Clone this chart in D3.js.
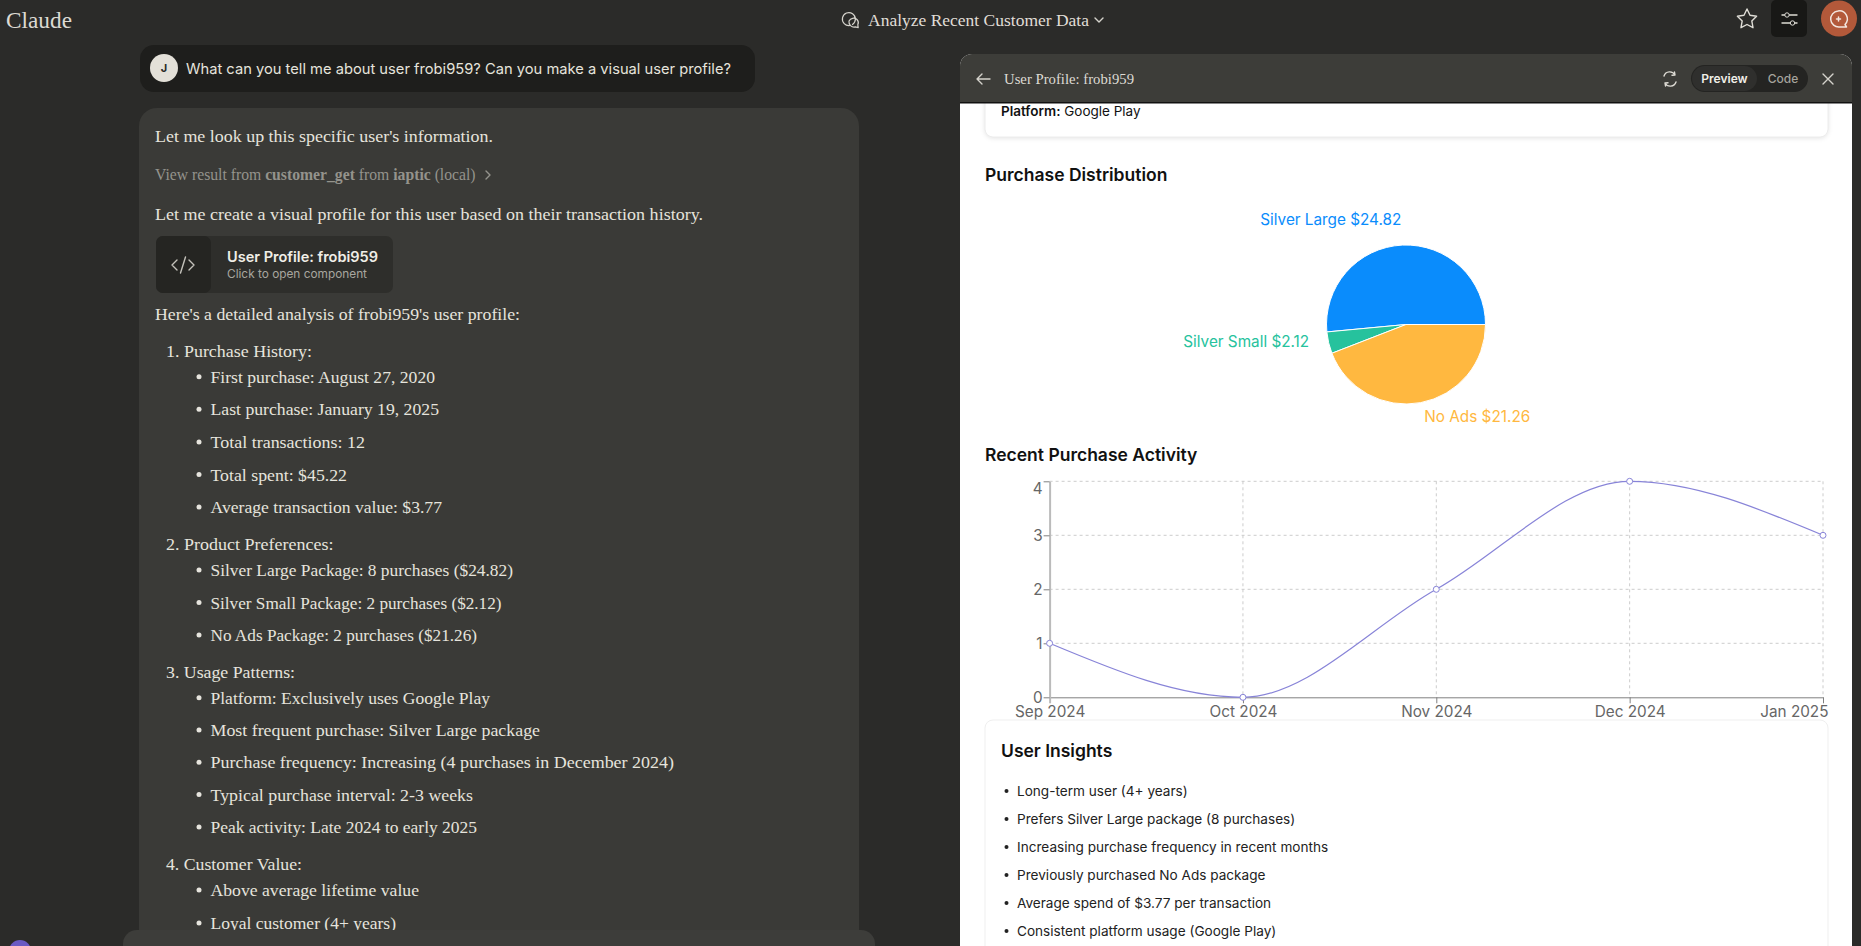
<!DOCTYPE html>
<html>
<head>
<meta charset="utf-8">
<title>Claude - Analyze Recent Customer Data</title>
<script src="https://cdnjs.cloudflare.com/ajax/libs/d3/7.8.5/d3.min.js"></script>
<style>
  html, body { margin: 0; padding: 0; background: #2b2b29; overflow: hidden; }
  svg { display: block; }
  .serif { font-family: "Liberation Serif", serif; }
  .sans { font-family: Inter, "Noto Sans", sans-serif; }
</style>
</head>
<body>
<div id="chart"></div>
<script>
const pieLabels = ["Silver Large", "Silver Small", "No Ads"];
const pieValues = [24.82, 2.12, 21.26];

const months = ["Sep 2024", "Oct 2024", "Nov 2024", "Dec 2024", "Jan 2025"];
const purchases = [1, 0, 2, 4, 3];
const yTicks = [0, 1, 2, 3, 4];

const insights = [
  "Long-term user (4+ years)",
  "Prefers Silver Large package (8 purchases)",
  "Increasing purchase frequency in recent months",
  "Previously purchased No Ads package",
  "Average spend of $3.77 per transaction",
  "Consistent platform usage (Google Play)"
];

const sections = [
  ["1. Purchase History:", [
    "First purchase: August 27, 2020",
    "Last purchase: January 19, 2025",
    "Total transactions: 12",
    "Total spent: $45.22",
    "Average transaction value: $3.77"
  ]],
  ["2. Product Preferences:", [
    "Silver Large Package: 8 purchases ($24.82)",
    "Silver Small Package: 2 purchases ($2.12)",
    "No Ads Package: 2 purchases ($21.26)"
  ]],
  ["3. Usage Patterns:", [
    "Platform: Exclusively uses Google Play",
    "Most frequent purchase: Silver Large package",
    "Purchase frequency: Increasing (4 purchases in December 2024)",
    "Typical purchase interval: 2-3 weeks",
    "Peak activity: Late 2024 to early 2025"
  ]],
  ["4. Customer Value:", [
    "Above average lifetime value",
    "Loyal customer (4+ years)"
  ]]
];

const W = 1861, H = 946;
const svg = d3.select("#chart").append("svg").attr("width", W).attr("height", H);

const txt = (parent, x, y, s, o = {}) => {
  const t = parent.append("text")
    .attr("class", o.font || "serif")
    .attr("x", x)
    .attr("y", y)
    .attr("dy", "0.35em")
    .attr("font-size", o.size || 17.6)
    .attr("font-weight", o.weight || 400)
    .attr("fill", o.fill || "#e6e4dd")
    .attr("text-anchor", o.anchor || "start")
    .text(s);
  // the original serif runs a bit wider than Liberation, so stretch to its right edge
  if (o.right) t.attr("textLength", o.right - x).attr("lengthAdjust", "spacingAndGlyphs");
  return t;
};

const box = (parent, x, y, w, h, r, fill) =>
  parent.append("rect").attr("x", x).attr("y", y).attr("width", w).attr("height", h).attr("rx", r).attr("fill", fill);

const icon = (d, stroke, width = 1.4) =>
  svg.append("path").attr("d", d).attr("fill", "none").attr("stroke", stroke)
    .attr("stroke-width", width).attr("stroke-linecap", "round").attr("stroke-linejoin", "round");

// page background and top bar
box(svg, 0, 0, W, H, 0, "#2b2b29");
txt(svg, 6, 20, "Claude", { size: 23, fill: "#dcdad3", right: 72 });
icon("M850 25.5a6.5 6.5 0 1 1 2.5-1M849 21a5.2 5.2 0 0 1 8-1.5c1.6 1.8 1.5 4 .8 5.2l.4 3-3-.8a5.2 5.2 0 0 1-6.2-5.9z", "#d5d3cc", 1.2);
txt(svg, 868, 20, "Analyze Recent Customer Data", { size: 17.5, fill: "#e0ded7", right: 1089 });
icon("M1095 18l4 4 4-4", "#d5d3cc");

icon("M1747 9l3 6.2 6.6 1-4.8 4.7 1.2 6.8-6-3.2-6 3.2 1.2-6.8-4.8-4.7 6.6-1z", "#e0ded7");
box(svg, 1771, 0, 36, 37, 5, "#181816");
icon("M1782 15h15M1782 23h15", "#dddbd4");
svg.append("circle").attr("cx", 1787).attr("cy", 15).attr("r", 2.2).attr("fill", "#181816").attr("stroke", "#dddbd4");
svg.append("circle").attr("cx", 1792.5).attr("cy", 23).attr("r", 2.2).attr("fill", "#181816").attr("stroke", "#dddbd4");
svg.append("circle").attr("cx", 1839).attr("cy", 18.5).attr("r", 18).attr("fill", "#b3593a");
icon("M1838 11a8 8 0 1 0 1.5 16h7l-1.5-2.5a8 8 0 0 0-7-13.500z", "#f3e6df", 1.5);
icon("M1838.500 17v4M1836.500 19h4", "#f3e6df", 1.5);

// chat column
box(svg, 139, 108, 720, 900, 18, "#3a3a37");
box(svg, 140, 45, 615, 47, 14, "#1e1e1c");
svg.append("circle").attr("cx", 164).attr("cy", 68).attr("r", 14).attr("fill", "#e3e0d8");
txt(svg, 164, 68, "J", { font: "sans", size: 11, weight: 700, fill: "#2b2b29", anchor: "middle" });
txt(svg, 186, 69, "What can you tell me about user frobi959? Can you make a visual user profile?", { font: "sans", size: 14.6, fill: "#e6e4dd", right: 731 });

txt(svg, 155, 136, "Let me look up this specific user's information.", { right: 493 });
const viewLine = txt(svg, 155, 175, "", { size: 15.7, fill: "#94938c" });
viewLine.append("tspan").text("View result from ");
viewLine.append("tspan").attr("font-weight", 700).text("customer_get");
viewLine.append("tspan").text(" from ");
viewLine.append("tspan").attr("font-weight", 700).text("iaptic");
viewLine.append("tspan").text(" (local)");
icon("M486 171l4 4-4 4", "#94938c");
txt(svg, 155, 214, "Let me create a visual profile for this user based on their transaction history.", { right: 703 });

box(svg, 156, 236, 237, 57, 7, "#2e2e2b");
box(svg, 156, 236, 55, 57, 7, "#252522");
icon("M177 260l-5 5 5 5M189 260l5 5-5 5M185.500 257l-5 16", "#c4c2bb");
txt(svg, 227, 257, "User Profile: frobi959", { font: "sans", size: 14.3, weight: 600, fill: "#f0eee7", right: 378 });
txt(svg, 227, 274, "Click to open component", { font: "sans", size: 11.7, fill: "#a8a69f", right: 367 });
txt(svg, 155, 314, "Here's a detailed analysis of frobi959's user profile:", { right: 520 });

// numbered sections, row y values follow the spacing of the chat text
const headingY = [350.7, 544, 671.7, 864];
const itemGap = [32.6, 32.5, 32.3, 33];
const headingRight = [312, 333.5, 295, 302];
const itemRight = [
  [435, 439, 365, 347, 442],
  [513, 501.5, 477],
  [490, 540, 674, 473, 477],
  [419, 396]
];
sections.forEach(([heading, items], i) => {
  txt(svg, 166, headingY[i], heading, { right: headingRight[i] });
  items.forEach((item, j) => {
    const y = headingY[i] + 26 + j * itemGap[i];
    svg.append("circle").attr("cx", 199).attr("cy", y).attr("r", 2.5).attr("fill", "#e6e4dd");
    txt(svg, 210.5, y, item, { right: itemRight[i][j] });
  });
});

box(svg, 123, 930, 752, 60, 14, "#3d3d3a");
svg.append("circle").attr("cx", 20).attr("cy", 951).attr("r", 11).attr("fill", "#6a5bc4");

// preview panel
box(svg, 960, 54, 892, 950, 12, "#ffffff");
box(svg, 985, 60, 843, 77, 8, "#ffffff")
  .attr("stroke", "#ececec").style("filter", "drop-shadow(0 1px 2px rgba(0,0,0,0.1))");
const platform = txt(svg, 1001, 111, "", { font: "sans", size: 13.5, fill: "#111" });
platform.append("tspan").attr("font-weight", 600).text("Platform:");
platform.append("tspan").text(" Google Play");

svg.append("path")
  .attr("d", "M960 102V66a12 12 0 0 1 12-12H1840a12 12 0 0 1 12 12V102z")
  .attr("fill", "#3d3d39");
svg.append("rect").attr("x", 960).attr("y", 102).attr("width", 892).attr("height", 1.5).attr("fill", "#111");
icon("M990 79h-13M982 74l-5 5 5 5", "#d5d3cc");
txt(svg, 1004, 79, "User Profile: frobi959", { size: 15.5, fill: "#dddbd4", right: 1134 });
icon("M1664 76a6 6 0 0 1 11-1M1675 75l-.5-3M1675 75l-3 .3M1676 82a6 6 0 0 1-11 1M1665 83l.5 3M1665 83l3-.3", "#dddbd4");
box(svg, 1691, 65, 117, 27, 13.5, "#242422");
box(svg, 1692, 66, 65, 25, 12.5, "#2f2f2d");
txt(svg, 1724.5, 79, "Preview", { font: "sans", size: 12, weight: 600, fill: "#f0eee7", anchor: "middle" });
txt(svg, 1783, 79, "Code", { font: "sans", size: 12, weight: 500, fill: "#a5a39c", anchor: "middle" });
icon("M1823 74l10 10M1833 74l-10 10", "#d5d3cc");

// pie
txt(svg, 985, 175, "Purchase Distribution", { font: "sans", size: 17.5, weight: 600, fill: "#111" });

const pieColor = d3.scaleOrdinal().domain(pieLabels).range(["#0a8cfc", "#26c29d", "#ffb840"]);
const pieCx = 1406, pieCy = 324.5, pieR = 79.5;
const pieGen = d3.pie().sort(null).startAngle(Math.PI / 2).endAngle(Math.PI / 2 - 2 * Math.PI);
const arc = d3.arc().innerRadius(0).outerRadius(pieR);
const pieRows = pieGen(pieValues).map((d, i) => ({ ...d, label: pieLabels[i] }));
const pieG = svg.append("g").attr("transform", `translate(${pieCx},${pieCy})`);

pieG.selectAll("path")
  .data(pieRows)
  .join("path")
  .attr("d", arc)
  .attr("fill", (d) => pieColor(d.label))
  .attr("stroke", "#fff")
  .attr("stroke-width", 1);

pieG.selectAll("text")
  .data(pieRows)
  .join("text")
  .attr("class", "sans")
  .attr("font-size", 15.3)
  .attr("fill", (d) => pieColor(d.label))
  .attr("x", (d) => (pieR + 20) * Math.sin((d.startAngle + d.endAngle) / 2))
  .attr("y", (d) => -(pieR + 20) * Math.cos((d.startAngle + d.endAngle) / 2))
  .attr("text-anchor", (d) => (Math.sin((d.startAngle + d.endAngle) / 2) > 0 ? "start" : "end"))
  .text((d) => `${d.label} $${d.value}`);

// line chart
txt(svg, 985, 455, "Recent Purchase Activity", { font: "sans", size: 17.5, weight: 600, fill: "#111" });

const x = d3.scalePoint().domain(months).range([1049.6, 1823]);
const y = d3.scaleLinear().domain([0, 4]).range([697.3, 481.3]);
const lineG = svg.append("g");

lineG.append("g").selectAll("line")
  .data(yTicks.slice(1))
  .join("line")
  .attr("x1", x.range()[0]).attr("x2", x.range()[1])
  .attr("y1", (d) => y(d)).attr("y2", (d) => y(d))
  .attr("stroke", "#ccc").attr("stroke-dasharray", "3 3");
lineG.append("g").selectAll("line")
  .data(months.slice(1))
  .join("line")
  .attr("x1", (d) => x(d)).attr("x2", (d) => x(d))
  .attr("y1", y(4)).attr("y2", y(0))
  .attr("stroke", "#ccc").attr("stroke-dasharray", "3 3");

const xAxis = lineG.append("g")
  .attr("transform", `translate(0,${y(0)})`)
  .call(d3.axisBottom(x).tickSize(6).tickSizeOuter(0).tickPadding(2.5));
const yAxis = lineG.append("g")
  .attr("transform", `translate(${x.range()[0]},0)`)
  .call(d3.axisLeft(y).tickValues(yTicks).tickSize(6).tickSizeOuter(0).tickPadding(1).tickFormat(d3.format("d")));

[xAxis, yAxis].forEach((axis) => {
  axis.selectAll(".domain, line").attr("stroke", "#808080");
  axis.selectAll("text").attr("class", "sans").attr("font-size", 15.3).attr("fill", "#666");
});
// left axis is a lighter, thicker rule in the screenshot and runs down through the first x tick
yAxis.select(".domain").attr("stroke", "#bbb").attr("stroke-width", 2);
xAxis.selectAll(".tick line").filter((d) => d === months[0]).attr("stroke", "#bbb").attr("stroke-width", 2);
yAxis.selectAll("text").filter((d) => d === 4).attr("y", 7);
xAxis.selectAll("text").filter((d) => d === "Jan 2025").attr("text-anchor", "end").attr("dx", 5);

lineG.append("path")
  .datum(purchases)
  .attr("fill", "none")
  .attr("stroke", "#8884d8")
  .attr("stroke-width", 1.2)
  .attr("d", d3.line().x((d, i) => x(months[i])).y((d) => y(d)).curve(d3.curveMonotoneX));

lineG.append("g").selectAll("circle")
  .data(purchases)
  .join("circle")
  .attr("cx", (d, i) => x(months[i]))
  .attr("cy", (d) => y(d))
  .attr("r", 3)
  .attr("fill", "#fff")
  .attr("stroke", "#8884d8");

// insights card
box(svg, 985, 720, 843, 300, 8, "#ffffff")
  .attr("stroke", "#efefef");
txt(svg, 1001, 751, "User Insights", { font: "sans", size: 17.5, weight: 600, fill: "#111" });
insights.forEach((item, i) => {
  const rowY = 791 + i * 28;
  svg.append("circle").attr("cx", 1006.5).attr("cy", rowY).attr("r", 2).attr("fill", "#222");
  txt(svg, 1017, rowY, item, { font: "sans", size: 13.6, fill: "#222" });
});

box(svg, 1852, 54, 9, 892, 0, "#2b2b29");
</script>
</body>
</html>
